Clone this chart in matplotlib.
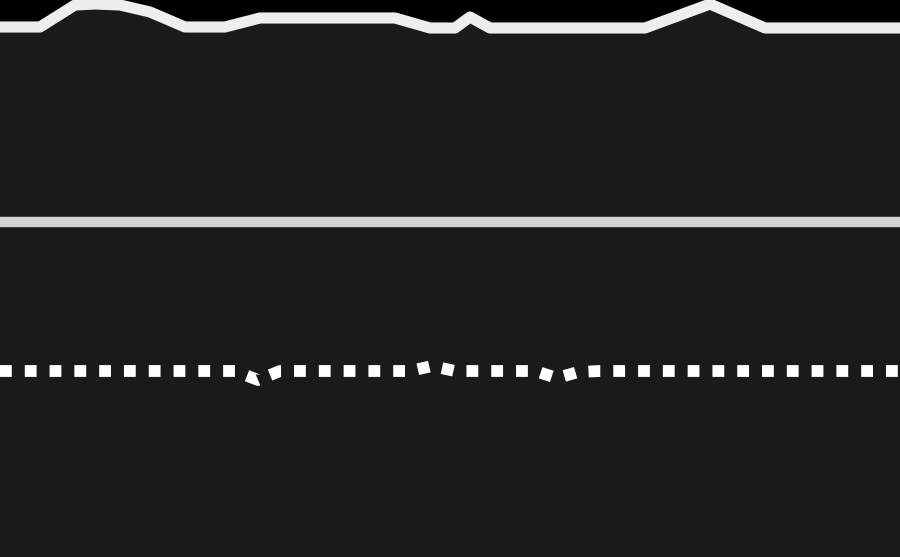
import numpy as np
import matplotlib.pyplot as plt

# top line
top_x = [0, 40, 75, 95, 120, 150, 185, 225, 260, 395, 430, 455, 470, 490, 645, 710, 765, 900]
top_y = [27, 27, 5, 4, 5, 12, 27, 27, 18, 18, 28, 28, 17, 28, 28, 4, 28, 28]

# middle line
mid_x = [0, 900]
mid_y = [222, 222]

# bottom dotted line
bot_x = [0, 235, 258, 280, 410, 432, 455, 535, 557, 578, 600, 900]
bot_y = [371, 371, 380, 371, 371, 366, 371, 371, 378, 372, 371, 371]

fig = plt.figure(figsize=(9, 5.57), dpi=100)
fig.patch.set_facecolor('#1a1a1a')
ax = fig.add_axes([0, 0, 1, 1])
ax.set_facecolor('#1a1a1a')

ax.fill_between(top_x, top_y, -10, color='black', lw=0)
ax.plot(top_x, top_y, color='#eeeeee', lw=8, solid_capstyle='butt', solid_joinstyle='round')
ax.plot(mid_x, mid_y, color='#d4d4d4', lw=7.5)
ax.plot(bot_x, bot_y, color='white', lw=8.5, linestyle=(0, (1.0, 1.1)), dash_capstyle='butt')

ax.set_xlim(0, 900)
ax.set_ylim(557, 0)
ax.axis('off')
fig.savefig('out.png', dpi=100, facecolor=fig.get_facecolor())
